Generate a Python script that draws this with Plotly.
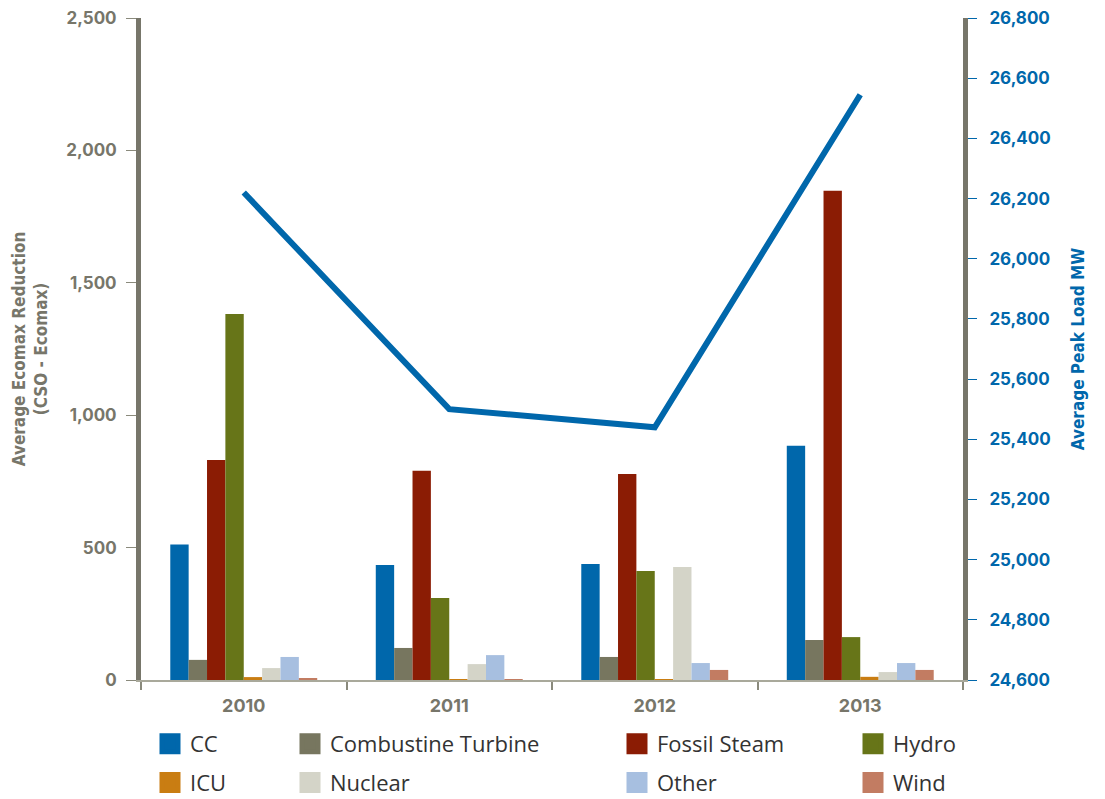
import plotly.graph_objects as go

years = ["2010", "2011", "2012", "2013"]
series_names = ["CC", "Combustine Turbine", "Fossil Steam", "Hydro", "ICU", "Nuclear", "Other", "Wind"]
cc = [512, 434, 438, 885]
combustion_turbine = [76, 121, 87, 151]
fossil_steam = [831, 790, 778, 1848]
hydro = [1382, 310, 412, 162]
icu = [11, 3, 3, 12]
nuclear = [45, 60, 427, 30]
other = [87, 94, 64, 64]
wind = [4, 2, 38, 38]
peak_load = [26220, 25500, 25440, 26545]

colors = ["#0067AB", "#77765F", "#8B1C04", "#677518", "#C97D12", "#D4D4C8", "#A7BFE0", "#C27C62"]
series_values = [cc, combustion_turbine, fossil_steam, hydro, icu, nuclear, other, wind]

GRAY = "#77766A"
BLUE = "#0067AB"

fig = go.Figure()
for name, vals, col in zip(series_names, series_values, colors):
    fig.add_trace(go.Bar(x=years, y=vals, name=name, marker=dict(color=col, line=dict(width=0)),
                         showlegend=False))

fig.add_trace(go.Scatter(x=years, y=peak_load, yaxis="y2", mode="lines",
                         line=dict(color=BLUE, width=6), showlegend=False, name="Average Peak Load"))

# legend: four columns of two entries each
legend_cols = ["legend", "legend2", "legend3", "legend4"]
for i, (name, col) in enumerate(zip(series_names, colors)):
    fig.add_trace(go.Scatter(x=[None], y=[None], mode="markers", name=name,
                             marker=dict(symbol="square", size=16, color=col,
                                         line=dict(color=col, width=5)),
                             legend=legend_cols[i % 4], legendgroup=name,
                             legendrank=i, showlegend=True))

legend_font = dict(family="Open Sans", size=22, color="#333333")
def leg(xpx):
    return dict(x=(xpx - 141) / 822, y=-0.065, xanchor="left", yanchor="top",
                orientation="v", font=legend_font, bgcolor="rgba(0,0,0,0)",
                itemwidth=30, tracegroupgap=7)

tick_font_gray = dict(family="Inter", size=17, color=GRAY, weight=700)
tick_font_blue = dict(family="Inter", size=17, color=BLUE, weight=700)
cat_font = dict(family="Inter", size=18, color=GRAY, weight=700)
title_family = "DejaVu Sans Condensed, Liberation Sans Narrow, Roboto"

fig.update_layout(
    width=1105, height=799,
    margin=dict(l=141, r=142, t=18, b=119, autoexpand=False),
    paper_bgcolor="white", plot_bgcolor="white",
    barmode="group", bargap=0.285, bargroupgap=0,
    legend=leg(150), legend2=leg(290), legend3=leg(617), legend4=leg(853),
    xaxis=dict(showline=True, linecolor="#A9A99B", linewidth=2,
               ticks="outside", tickson="boundaries", ticklen=8, tickcolor="#8A8A7C", tickwidth=2,
               tickfont=cat_font, showgrid=False, zeroline=False, ticklabelstandoff=8),
    yaxis=dict(range=[0, 2500], tickvals=[0, 500, 1000, 1500, 2000, 2500], tickformat=",",
               showline=True, linecolor=GRAY, linewidth=5, ticks="outside", ticklen=10,
               tickcolor="#8A8A7C", tickwidth=1, tickfont=tick_font_gray, showgrid=False,
               zeroline=False, ticklabelstandoff=6,
               title=dict(text="<b>Average Ecomax Reduction<br>(CSO - Ecomax)</b>",
                          font=dict(family=title_family, size=17, color=GRAY), standoff=16)),
    yaxis2=dict(range=[24600, 26800], dtick=200, tickformat=",", overlaying="y", side="right",
                showline=True, linecolor=GRAY, linewidth=5, ticks="outside", ticklen=9,
                tickcolor=BLUE, tickwidth=1, tickfont=tick_font_blue, showgrid=False,
                zeroline=False, ticklabelstandoff=9,
                title=dict(text="<b>Average Peak Load MW</b>",
                           font=dict(family=title_family, size=17, color=BLUE), standoff=24)),
)

fig.write_html("out.html")
